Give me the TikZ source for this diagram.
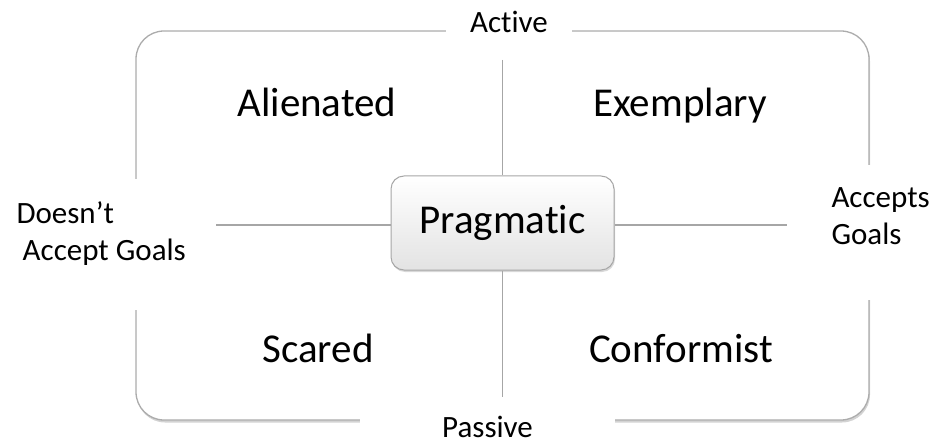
\documentclass[tikz,border=0pt]{standalone}
\usepackage{fontspec}
\setmainfont{Carlito}[Ligatures=NoCommon]
\usetikzlibrary{shadows,backgrounds}

\tikzset{
  axisline/.style={draw=gray!70, line width=1.3pt},
  quadlabel/.style={anchor=base, font=\fontsize{41}{49}\selectfont},
  sidelabel/.style={font=\fontsize{31}{37}\selectfont},
  gaplabel/.style={sidelabel, fill=white, anchor=base, inner ysep=6pt},
}

\begin{document}
\begin{tikzpicture}[x=1pt, y=-1pt]
        \useasboundingbox (0,0) rectangle (941,446);

        % frame round the four fields
        \begin{scope}[on background layer]
          \draw [gray!65, line width=1.3pt, fill=white, rounded corners=28pt,
                 drop shadow={shadow xshift=1pt, shadow yshift=-2.5pt, opacity=0.35}]
                (136,31) rectangle (869,420);
        \end{scope}

        \node [gaplabel, minimum width=126pt] (active) at (509,33) {Active};
        \node [gaplabel, minimum width=255pt] (passive) at (487.5,437) {Passive};

        % the two axes
        \coordinate (topend) at (502.5,60);
        \coordinate (botend) at (502.5,397);
        \coordinate (leftend) at (216,225);
        \coordinate (rightend) at (787,225);

        \node [draw=gray!70, line width=1pt, rounded corners=13pt,
               top color=white, bottom color=gray!22,
               minimum width=223pt, minimum height=94pt,
               drop shadow={shadow xshift=1pt, shadow yshift=-2pt, opacity=0.3},
               font=\fontsize{41}{49}\selectfont] (prag) at (502.5,223) {Pragmatic};

        \draw [axisline] (topend) -- (topend |- prag.north);
        \draw [axisline] (prag.south -| botend) -- (botend);
        \draw [axisline] (leftend) -- (leftend -| prag.west);
        \draw [axisline] (rightend -| prag.east) -- (rightend);

        \node [quadlabel] (alien) at (317,117) {Alienated};
        \node [quadlabel] (exemp) at (680,117) {Exemplary};
        \node [quadlabel] (scared) at (318,362) {Scared};
        \node [quadlabel] (conform) at (681,362) {Conformist};

        \node [sidelabel, anchor=west, align=left] (doesnt) at (13,233.5)
              {Doesn’t\\\hspace*{0.2em}Accept Goals};
        \node [sidelabel, anchor=west, align=left] (accepts) at (828,216)
              {Accepts\\Goals};

        % white boxes behind the side labels break the frame
        \begin{scope}[on background layer]
          \fill [white] (doesnt.west |- 0,179) rectangle (doesnt.east |- 0,310);
          \fill [white] (accepts.west |- 0,165) rectangle (accepts.east |- 0,300);
        \end{scope}
\end{tikzpicture}
\end{document}
